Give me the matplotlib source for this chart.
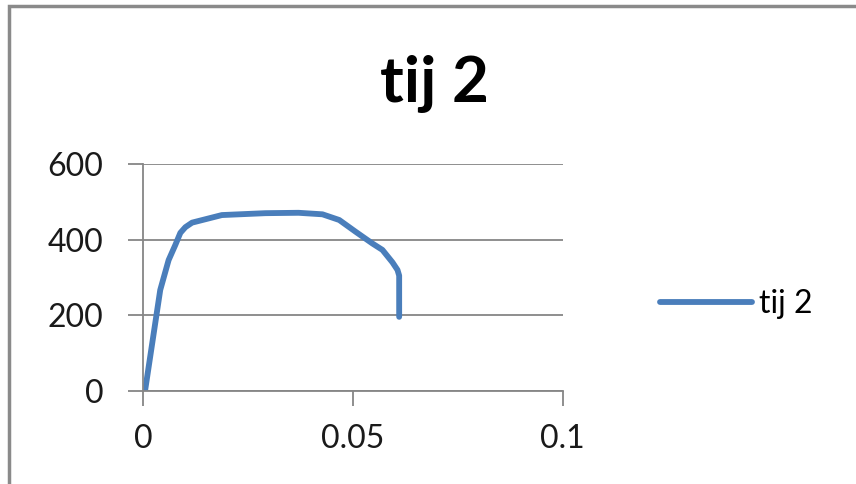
import numpy as np
import matplotlib.pyplot as plt
from matplotlib.patches import Rectangle

# strain / stress
strain = [0.0004, 0.004, 0.006, 0.0076, 0.0088, 0.010, 0.0116, 0.0187, 0.0291,
          0.037, 0.0427, 0.0467, 0.0506, 0.0546, 0.057, 0.0594, 0.0606, 0.061, 0.061]
stress = [2, 267, 346, 386, 418, 433, 445, 465, 470,
          471, 467, 452, 421, 390, 373, 340, 320, 305, 196]
series_name = "tij 2"
x_ticks = [0, 0.05, 0.1]
x_labels = ["0", "0.05", "0.1"]
y_ticks = [0, 200, 400, 600]

plt.rcParams['font.family'] = ['Lato', 'DejaVu Sans']

fig = plt.figure(figsize=(8.56, 4.84), dpi=100)
fig.patches.append(Rectangle((0.0105, -0.05), 1.2, 1.0376, transform=fig.transFigure,
                             fill=False, edgecolor="#8a8a8a", linewidth=2.5))

ax = fig.add_axes([0.1676, 0.1921, 0.4897, 0.4691])
line, = ax.plot(strain, stress, color="#4a7ebb", linewidth=4.2,
                solid_capstyle="round", solid_joinstyle="round", label=series_name)

ax.set_xlim(0, 0.1)
ax.set_ylim(0, 600)
ax.set_xticks(x_ticks)
ax.set_xticklabels(x_labels)
ax.set_yticks(y_ticks)
ax.set_yticklabels([str(v) for v in y_ticks])
ax.grid(axis="y", color="#868686", linewidth=1.3)
ax.set_axisbelow(True)
for s in ["top", "right"]:
    ax.spines[s].set_visible(False)
for s in ["left", "bottom"]:
    ax.spines[s].set_color("#868686")
    ax.spines[s].set_linewidth(1.3)
ax.tick_params(axis="both", colors="#868686", length=11, width=1.3,
               labelsize=23, labelcolor="#1a1a1a")
ax.tick_params(axis="x", pad=13)
ax.tick_params(axis="y", pad=18)

fig.text(0.508, 1 - 102 / 484, series_name, ha="center", va="baseline",
         fontsize=46, fontweight="bold")

fig.legend(handles=[line], loc="center left", bbox_to_anchor=(0.737, 0.372),
           frameon=False, fontsize=23, handlelength=2.9, handletextpad=0.2)

fig.savefig("out.png", dpi=100)
